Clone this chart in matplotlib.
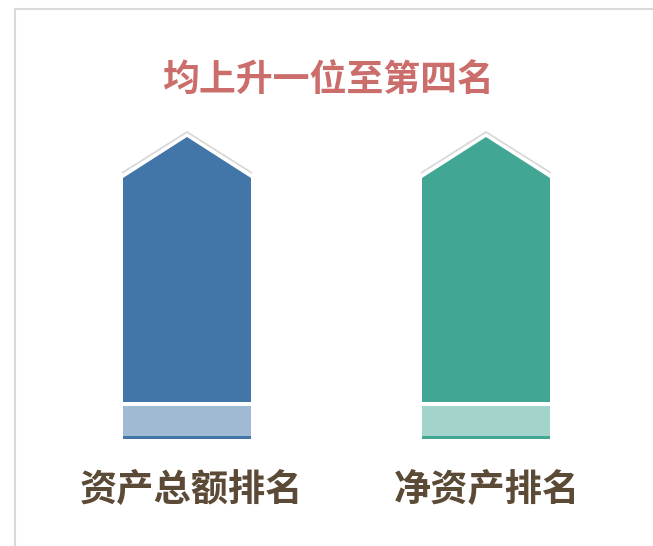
import matplotlib
matplotlib.use('Agg')
import matplotlib.pyplot as plt
from matplotlib.patches import Polygon

plt.rcParams['font.family'] = ['Noto Sans CJK SC', 'DejaVu Sans']

# data (segment heights, in pixels)
categories = ['资产总额排名', '净资产排名']
title = '均上升一位至第四名'
strip_h = [3, 3]
base_h = [30, 30]
body_h = [224, 224]
head_h = [41, 41]

dark_colors = ['#4275a8', '#42a694']
light_colors = ['#a1bad3', '#a2d4cb']

fig = plt.figure(figsize=(6.53, 5.46), dpi=100)
ax = fig.add_axes([0, 0, 1, 1])
ax.set_xlim(-187 / 299, (653 - 187) / 299)
ax.set_ylim(0, 546)
ax.axis('off')

x = [0, 1]
w = 128 / 299
y0 = 107
gap = 4
label_shift = [5 / 299, 1 / 299]
for i in x:
    ax.bar(i, strip_h[i], w, bottom=y0, color=dark_colors[i], linewidth=0)
    ax.bar(i, base_h[i], w, bottom=y0 + strip_h[i], color=light_colors[i], linewidth=0)
    b = y0 + strip_h[i] + base_h[i] + gap
    ax.bar(i, body_h[i], w, bottom=b, color=dark_colors[i], linewidth=0)
    top = b + body_h[i]
    ax.add_patch(Polygon([(i - w / 2, top), (i, top + head_h[i]), (i + w / 2, top)],
                         closed=True, facecolor=dark_colors[i], edgecolor='none'))
    # grey outline above arrow head
    ax.plot([i - w / 2 - 1 / 299, i, i + w / 2 + 1 / 299], [top + 5, top + head_h[i] + 5, top + 5],
            color='#d9d9d9', lw=1.3, solid_capstyle='butt')
    ax.text(i + label_shift[i], 56, categories[i], ha='center', va='center', fontsize=26.8,
            fontweight='bold', color='#5b4a36')

ax.text((328 - 187) / 299, 466, title, ha='center', va='center', fontsize=26.6,
        fontweight='bold', color='#cb6e6b')

# frame
fig.add_artist(plt.Line2D([15 / 653, 15 / 653], [0, 1 - 9 / 546], color='#d9d9d9', lw=1.5))
fig.add_artist(plt.Line2D([15 / 653, 1], [1 - 9 / 546, 1 - 9 / 546], color='#d9d9d9', lw=1.5))

fig.savefig('out.png', dpi=100)
